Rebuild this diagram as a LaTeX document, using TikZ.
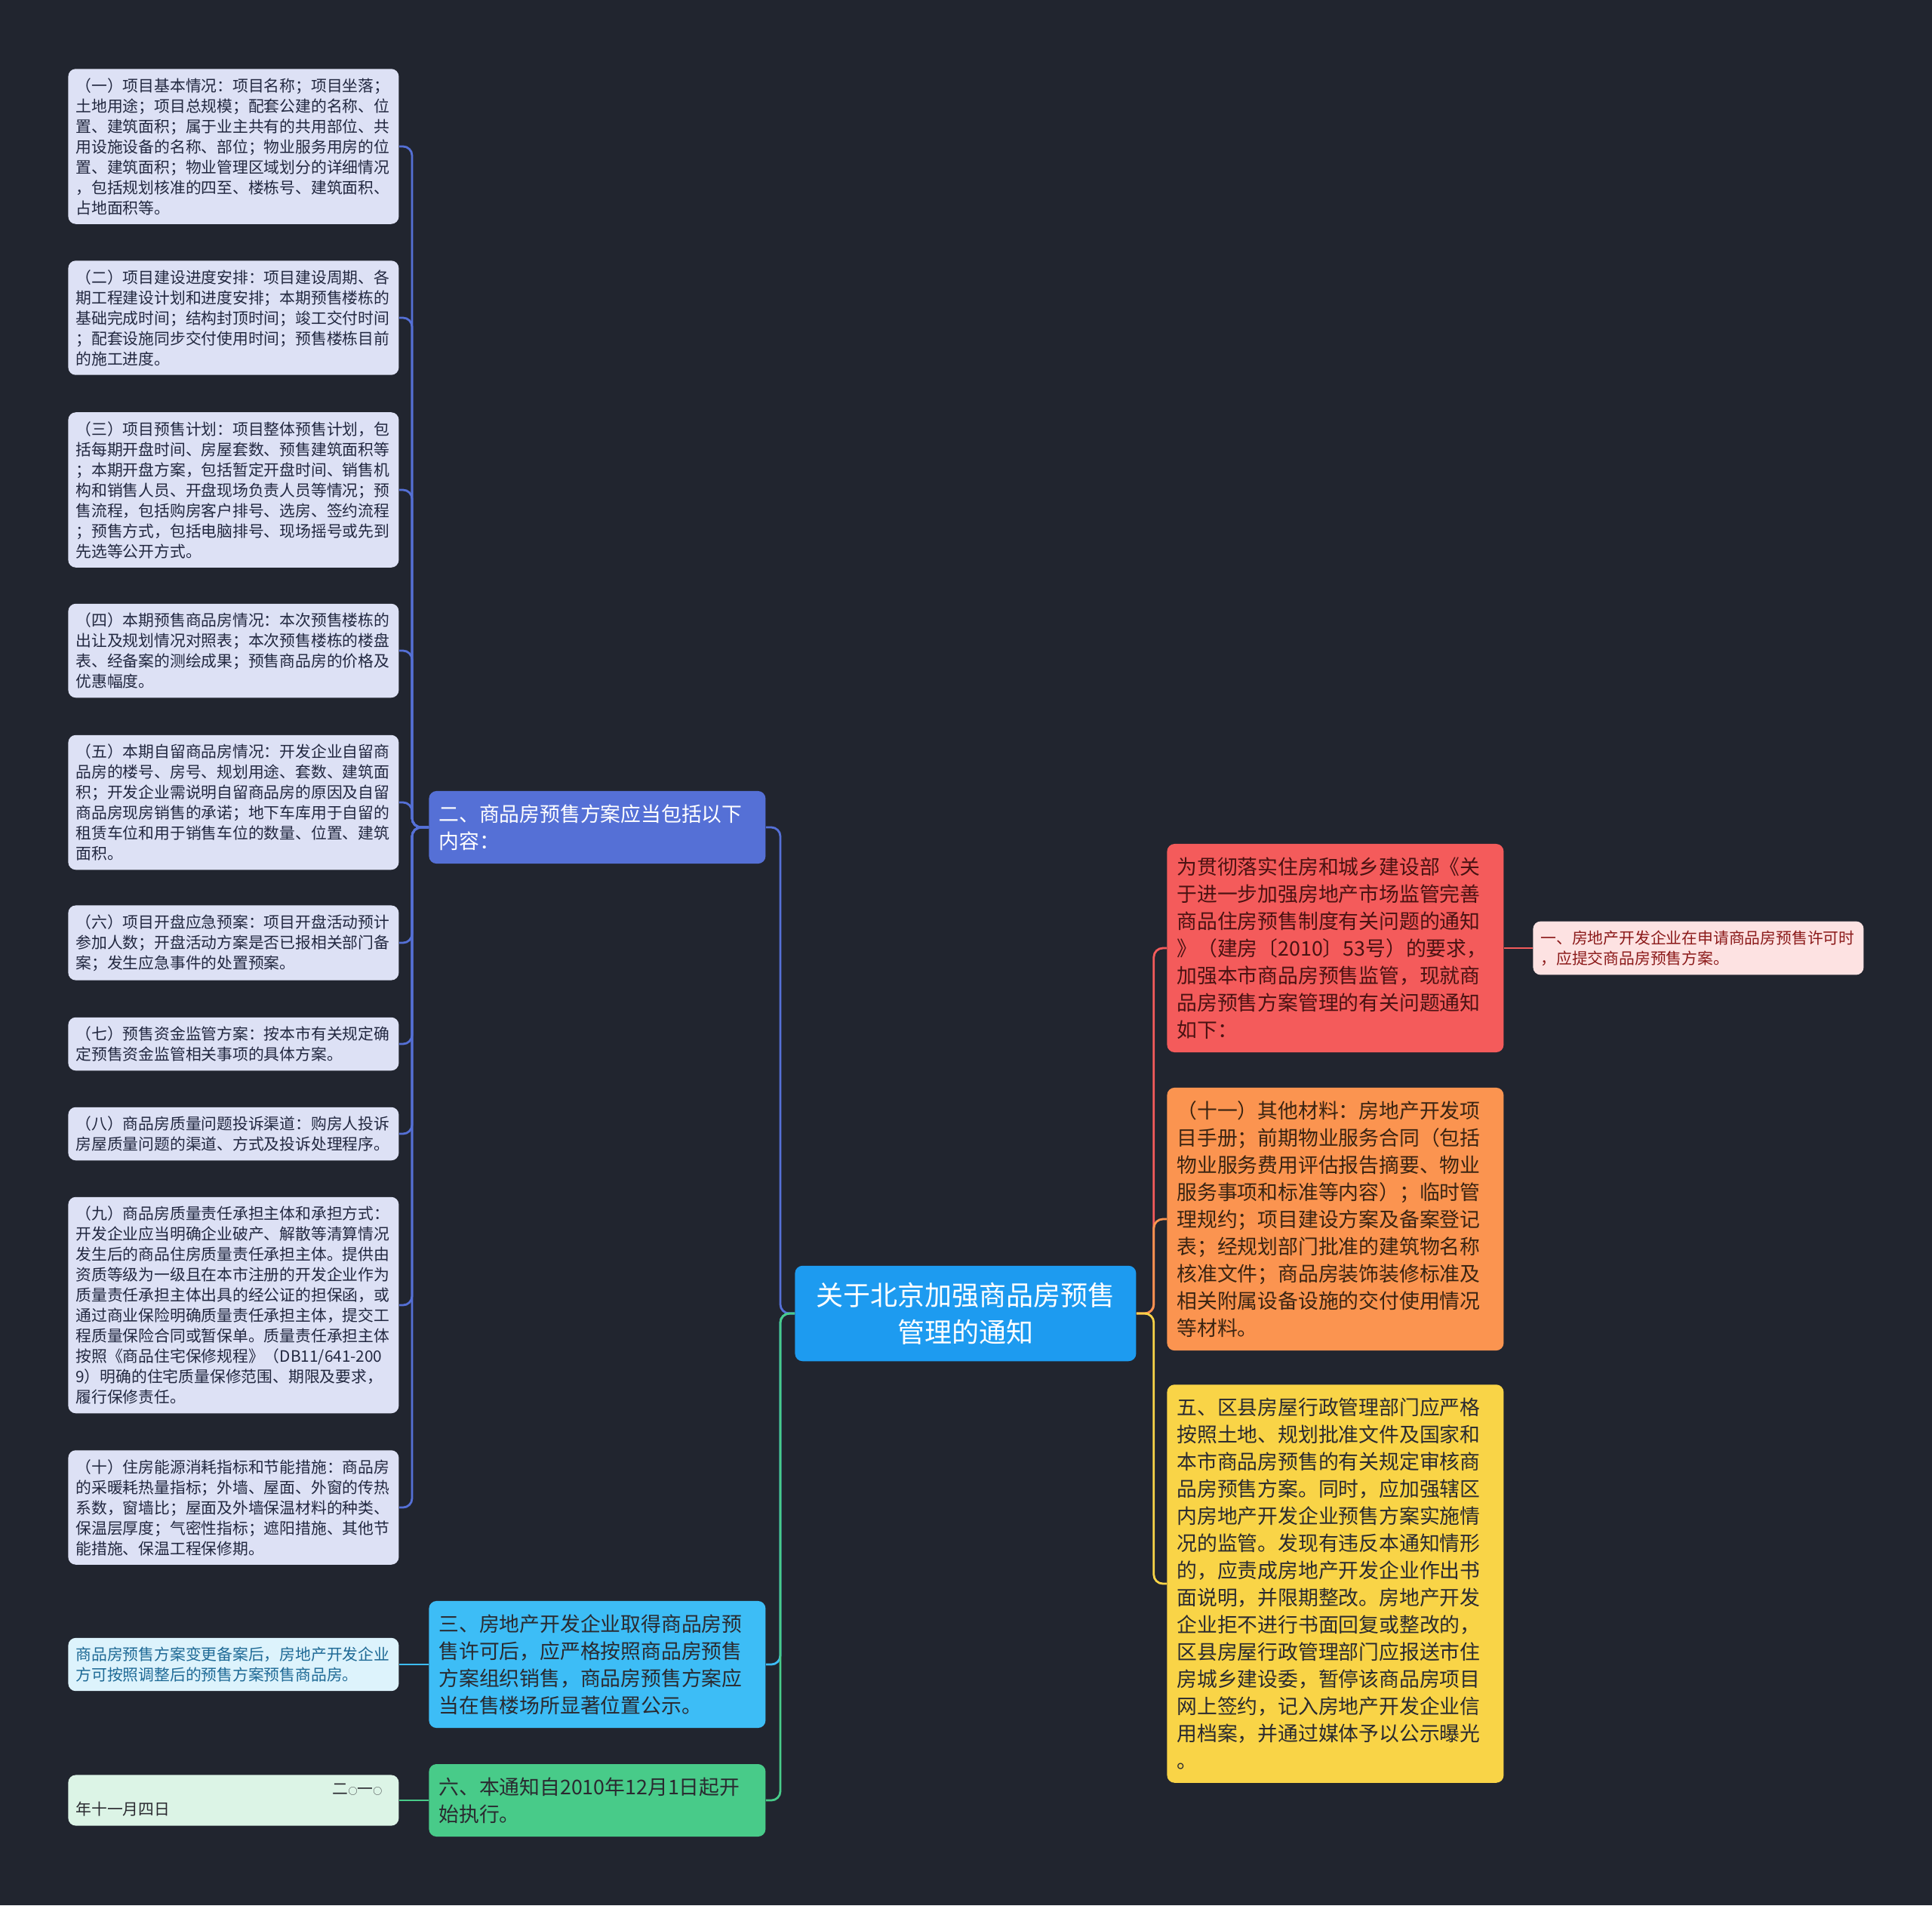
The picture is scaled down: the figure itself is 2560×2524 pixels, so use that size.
\documentclass[tikz,border=0pt]{standalone}
\usepackage{fontspec}
\setmainfont{Noto Sans CJK SC}
\usepackage{xcolor}
\definecolor{bgc}{HTML}{21252F}
\definecolor{leaff}{HTML}{DDE1F5}
\definecolor{leaft}{HTML}{222840}
\definecolor{cblue}{HTML}{5570D6}
\definecolor{csky}{HTML}{3DBDF6}
\definecolor{cskyl}{HTML}{DDF3FC}
\definecolor{cskyt}{HTML}{1F6A96}
\definecolor{cgreen}{HTML}{48CB89}
\definecolor{cgreenl}{HTML}{DCF4E6}
\definecolor{croot}{HTML}{1D9BF0}
\definecolor{cred}{HTML}{F45B5B}
\definecolor{credt}{HTML}{4A1212}
\definecolor{cpink}{HTML}{FDE2E2}
\definecolor{cpinkt}{HTML}{8B1A1A}
\definecolor{corange}{HTML}{FB9450}
\definecolor{corganget}{HTML}{3A2412}
\definecolor{cyellow}{HTML}{F9D447}
\definecolor{darkt}{HTML}{2A2A30}

\begin{document}
\begin{tikzpicture}[
    x=0.5pt, y=-0.5pt,
    leaf/.style={rectangle, rounded corners=5pt, fill=leaff, text=leaft, anchor=west, text width=209pt, inner xsep=5pt, inner ysep=6pt, align=left, font=\fontsize{10.4}{13.5}\selectfont},
    mid/.style={rectangle, rounded corners=5pt, anchor=west, text width=210pt, inner xsep=6.5pt, inner ysep=8.8pt, align=left, font=\fontsize{13.4}{18}\selectfont},
    conn/.style={line width=1.4pt, rounded corners=6pt},
  ]
    \fill[bgc] (0,0) rectangle (2560,2524);
    \useasboundingbox (0,0) rectangle (2560,2524);

    \node[rectangle, rounded corners=5pt, fill=croot, text=white, anchor=west, text width=204pt, inner xsep=11pt, inner ysep=11pt, align=center, font=\fontsize{18}{24.5}\selectfont] (R) at (1053,1740) {关于北京加强商品房预售\\管理的通知};

    % left side
    \node[mid, fill=cblue, text=white] (B) at (568,1096) {二、商品房预售方案应当包括以下\\内容：};
    \node[mid, fill=csky, text=darkt] (C) at (568,2205) {三、房地产开发企业取得商品房预\\售许可后，应严格按照商品房预售\\方案组织销售，商品房预售方案应\\当在售楼场所显著位置公示。};
    \node[mid, fill=cgreen, text=darkt] (D) at (568,2385) {六、本通知自2010年12月1日起开\\始执行。};

    \node[leaf] (B1) at (90,194) {（一）项目基本情况：项目名称；项目坐落；\\土地用途；项目总规模；配套公建的名称、位\\置、建筑面积；属于业主共有的共用部位、共\\用设施设备的名称、部位；物业服务用房的位\\置、建筑面积；物业管理区域划分的详细情况\\，包括规划核准的四至、楼栋号、建筑面积、\\占地面积等。};
    \node[leaf] (B2) at (90,421) {（二）项目建设进度安排：项目建设周期、各\\期工程建设计划和进度安排；本期预售楼栋的\\基础完成时间；结构封顶时间；竣工交付时间\\；配套设施同步交付使用时间；预售楼栋目前\\的施工进度。};
    \node[leaf] (B3) at (90,649) {（三）项目预售计划：项目整体预售计划，包\\括每期开盘时间、房屋套数、预售建筑面积等\\；本期开盘方案，包括暂定开盘时间、销售机\\构和销售人员、开盘现场负责人员等情况；预\\售流程，包括购房客户排号、选房、签约流程\\；预售方式，包括电脑排号、现场摇号或先到\\先选等公开方式。};
    \node[leaf] (B4) at (90,862) {（四）本期预售商品房情况：本次预售楼栋的\\出让及规划情况对照表；本次预售楼栋的楼盘\\表、经备案的测绘成果；预售商品房的价格及\\优惠幅度。};
    \node[leaf] (B5) at (90,1063) {（五）本期自留商品房情况：开发企业自留商\\品房的楼号、房号、规划用途、套数、建筑面\\积；开发企业需说明自留商品房的原因及自留\\商品房现房销售的承诺；地下车库用于自留的\\租赁车位和用于销售车位的数量、位置、建筑\\面积。};
    \node[leaf] (B6) at (90,1249) {（六）项目开盘应急预案：项目开盘活动预计\\参加人数；开盘活动方案是否已报相关部门备\\案；发生应急事件的处置预案。};
    \node[leaf] (B7) at (90,1383) {（七）预售资金监管方案：按本市有关规定确\\定预售资金监管相关事项的具体方案。};
    \node[leaf] (B8) at (90,1502) {（八）商品房质量问题投诉渠道：购房人投诉\\房屋质量问题的渠道、方式及投诉处理程序。};
    \node[leaf] (B9) at (90,1729) {（九）商品房质量责任承担主体和承担方式：\\开发企业应当明确企业破产、解散等清算情况\\发生后的商品住房质量责任承担主体。提供由\\资质等级为一级且在本市注册的开发企业作为\\质量责任承担主体出具的经公证的担保函，或\\通过商业保险明确质量责任承担主体，提交工\\程质量保险合同或暂保单。质量责任承担主体\\按照《商品住宅保修规程》（DB11/641-200\\9）明确的住宅质量保修范围、期限及要求，\\履行保修责任。};
    \node[leaf] (B10) at (90,1997) {（十）住房能源消耗指标和节能措施：商品房\\的采暖耗热量指标；外墙、屋面、外窗的传热\\系数，窗墙比；屋面及外墙保温材料的种类、\\保温层厚度；气密性指标；遮阳措施、其他节\\能措施、保温工程保修期。};
    \node[leaf, fill=cskyl, text=cskyt] (C1) at (90,2205) {商品房预售方案变更备案后，房地产开发企业\\方可按照调整后的预售方案预售商品房。};
    \node[leaf, fill=cgreenl, text=darkt] (D1) at (90,2385) {\makebox[\hsize][r]{二{\fontsize{6}{6}\selectfont ○}一{\fontsize{6}{6}\selectfont ○}\hspace{6pt}}\\年十一月四日};

    % right side
    \node[mid, fill=cred, text=credt] (E) at (1546,1256) {为贯彻落实住房和城乡建设部《关\\于进一步加强房地产市场监管完善\\商品住房预售制度有关问题的通知\\》（建房〔2010〕53号）的要求，\\加强本市商品房预售监管，现就商\\品房预售方案管理的有关问题通知\\如下：};
    \node[leaf, fill=cpink, text=cpinkt] (E1) at (2031,1256) {一、房地产开发企业在申请商品房预售许可时\\，应提交商品房预售方案。};
    \node[mid, fill=corange, text=corganget] (F) at (1546,1615) {（十一）其他材料：房地产开发项\\目手册；前期物业服务合同（包括\\物业服务费用评估报告摘要、物业\\服务事项和标准等内容）；临时管\\理规约；项目建设方案及备案登记\\表；经规划部门批准的建筑物名称\\核准文件；商品房装饰装修标准及\\相关附属设备设施的交付使用情况\\等材料。};
    \node[mid, fill=cyellow, text=darkt] (G) at (1546,2098) {五、区县房屋行政管理部门应严格\\按照土地、规划批准文件及国家和\\本市商品房预售的有关规定审核商\\品房预售方案。同时，应加强辖区\\内房地产开发企业预售方案实施情\\况的监管。发现有违反本通知情形\\的，应责成房地产开发企业作出书\\面说明，并限期整改。房地产开发\\企业拒不进行书面回复或整改的，\\区县房屋行政管理部门应报送市住\\房城乡建设委，暂停该商品房项目\\网上签约，记入房地产开发企业信\\用档案，并通过媒体予以公示曝光\\。};

    % connectors
    \draw[conn, cblue] (R.west) -- ++(-19,0) |- (B.east);
    \draw[conn, csky] (R.west) -- ++(-19,0) |- (C.east);
    \draw[conn, cgreen] (R.west) -- ++(-19,0) |- (D.east);
    \draw[conn, cblue] (B.west) -- ++(-22,0) |- (B1.east);
    \draw[conn, cblue] (B.west) -- ++(-22,0) |- (B2.east);
    \draw[conn, cblue] (B.west) -- ++(-22,0) |- (B3.east);
    \draw[conn, cblue] (B.west) -- ++(-22,0) |- (B4.east);
    \draw[conn, cblue] (B.west) -- ++(-22,0) |- (B5.east);
    \draw[conn, cblue] (B.west) -- ++(-22,0) |- (B6.east);
    \draw[conn, cblue] (B.west) -- ++(-22,0) |- (B7.east);
    \draw[conn, cblue] (B.west) -- ++(-22,0) |- (B8.east);
    \draw[conn, cblue] (B.west) -- ++(-22,0) |- (B9.east);
    \draw[conn, cblue] (B.west) -- ++(-22,0) |- (B10.east);
    \draw[conn, csky] (C.west) -- (C1.east);
    \draw[conn, cgreen] (D.west) -- (D1.east);
    \draw[conn, cred] (R.east) -- ++(23,0) |- (E.west);
    \draw[conn, corange] (R.east) -- ++(23,0) |- (F.west);
    \draw[conn, cyellow] (R.east) -- ++(23,0) |- (G.west);
    \draw[conn, cred] (E.east) -- (E1.west);
  \end{tikzpicture}
\end{document}
